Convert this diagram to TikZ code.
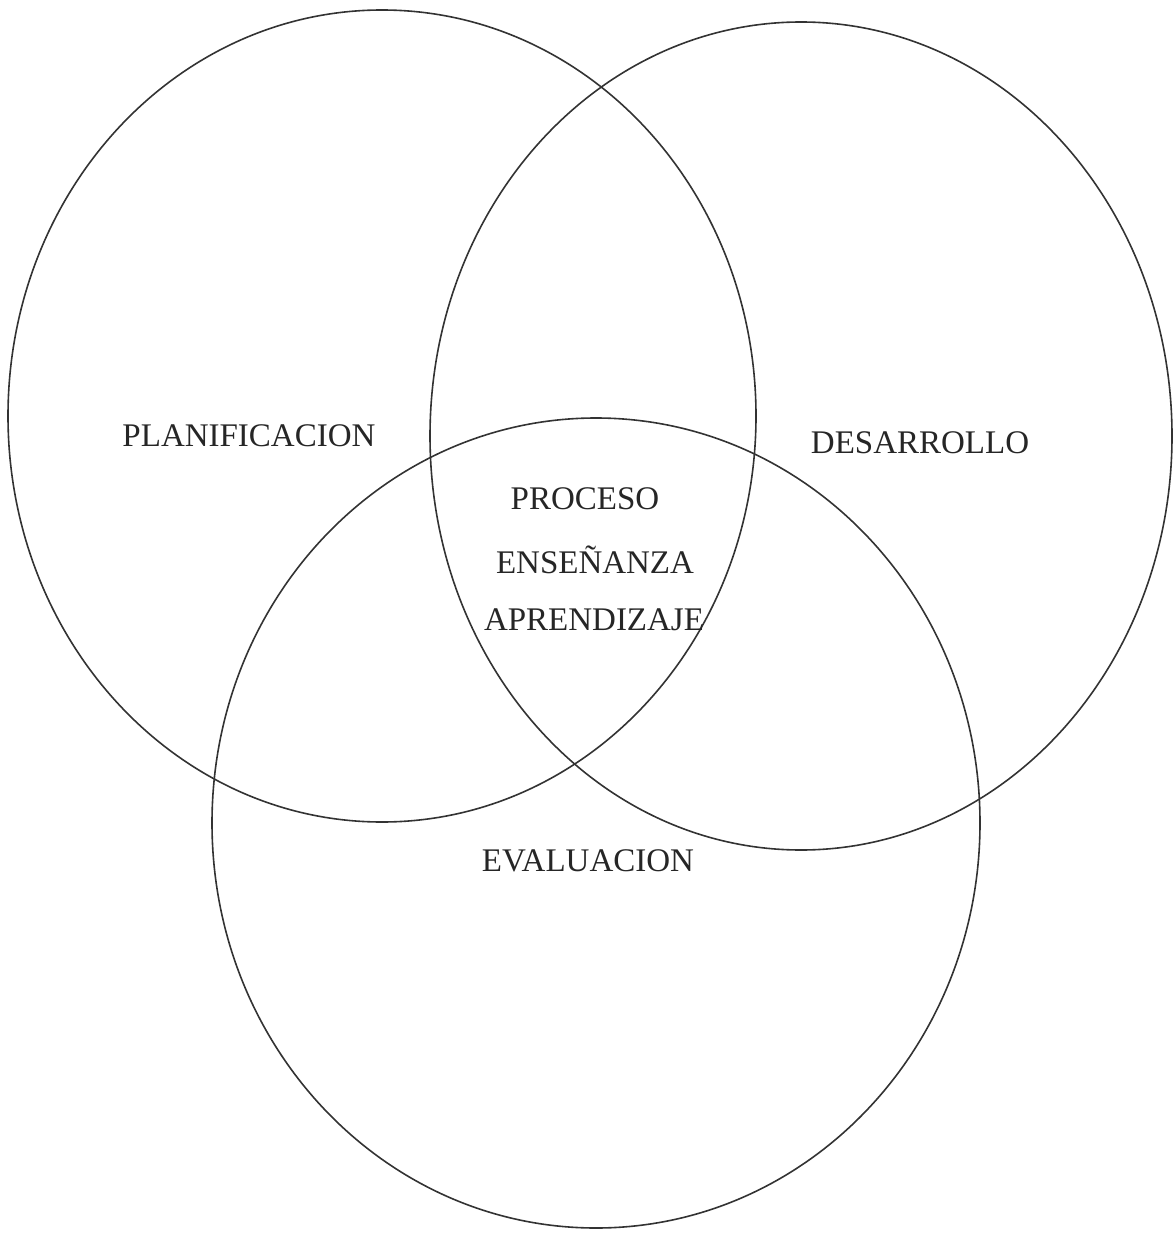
\documentclass[tikz,border=0pt]{standalone}
\usepackage{fontspec}
\setmainfont{Liberation Serif}
\begin{document}
\begin{tikzpicture}[x=1pt,y=-1pt,
  ring/.style={draw=black!80,line width=1.6pt},
  lab/.style={font=\fontsize{33}{38}\selectfont,text=black!85,inner sep=0pt}]
\useasboundingbox (0,0) rectangle (1173,1233);
\draw[ring] (382,416) ellipse [x radius=374,y radius=406];
\draw[ring] (801,436) ellipse [x radius=371,y radius=414];
\draw[ring] (596,823) ellipse [x radius=384,y radius=405];
\node[lab] (plan) at (249,436) {PLANIFICACION};
\node[lab] (des) at (920,443) {DESARROLLO};
\node[lab] (p1) at (585,499) {PROCESO};
\node[lab] (p2) at (595,560) {ENSEÑANZA};
\node[lab] (p3) at (594,620) {APRENDIZAJE};
\node[lab] (eva) at (588,861) {EVALUACION};
\end{tikzpicture}
\end{document}
